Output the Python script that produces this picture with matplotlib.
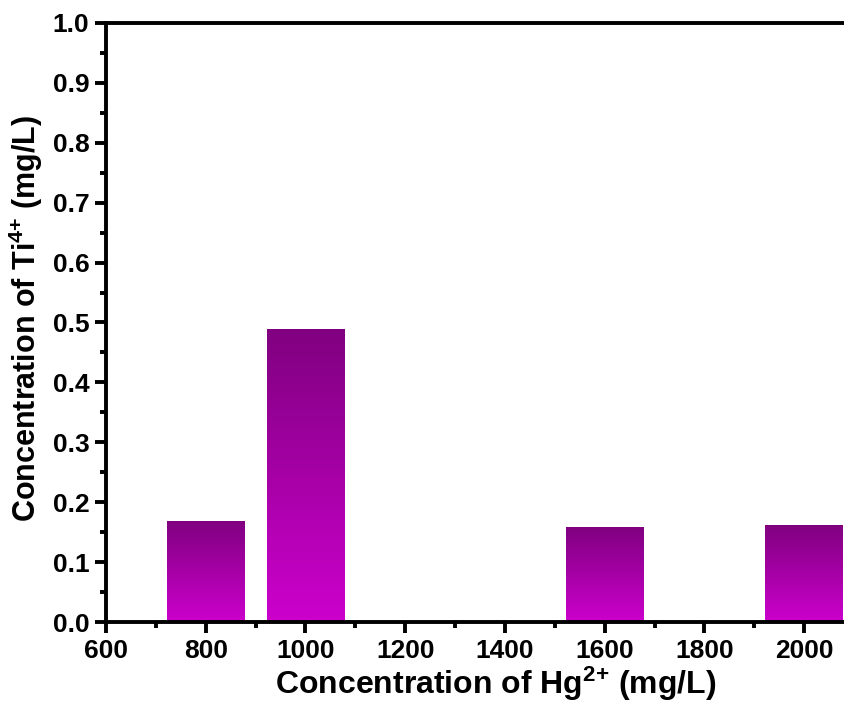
import numpy as np
import matplotlib
matplotlib.use("Agg")
import matplotlib.pyplot as plt
from matplotlib.colors import LinearSegmentedColormap
from matplotlib.ticker import MultipleLocator, FormatStrFormatter

# Hg2+ dose vs. leached Ti4+ concentration
hg_conc = [800, 1000, 1600, 2000]
ti_conc = [0.167, 0.488, 0.158, 0.161]
x_ticks = [600, 800, 1000, 1200, 1400, 1600, 1800, 2000]

plt.rcParams['font.family'] = ['Liberation Sans', 'DejaVu Sans']
plt.rcParams['font.weight'] = 'bold'
plt.rcParams['mathtext.fontset'] = 'custom'
plt.rcParams['mathtext.rm'] = 'Liberation Sans:bold'
plt.rcParams['mathtext.bf'] = 'Liberation Sans:bold'
plt.rcParams['mathtext.it'] = 'Liberation Sans:bold'
plt.rcParams['mathtext.default'] = 'bf'

fig = plt.figure(figsize=(8.44, 7.09), dpi=100)
ax = fig.add_axes([0.1256, 0.1227, 0.8744, 0.8449])

cmap = LinearSegmentedColormap.from_list('purp', ['#cc00cc', '#800080'])
grad = np.linspace(0, 1, 256).reshape(-1, 1)

width = 156
bars = ax.bar(hg_conc, ti_conc, width=width, color='none', edgecolor='none')
for b in bars:
    x0, y0 = b.get_x(), b.get_y()
    w, h = b.get_width(), b.get_height()
    ax.imshow(grad, cmap=cmap, aspect='auto', origin='lower',
              extent=(x0, x0 + w, y0, y0 + h), zorder=2)

ax.set_xlim(600, 2080)
ax.set_ylim(0, 1.0)
ax.set_xticks(x_ticks)
ax.xaxis.set_minor_locator(MultipleLocator(100))
ax.yaxis.set_major_locator(MultipleLocator(0.1))
ax.yaxis.set_minor_locator(MultipleLocator(0.05))
ax.yaxis.set_major_formatter(FormatStrFormatter('%.1f'))

for s in ['left', 'bottom', 'top']:
    ax.spines[s].set_linewidth(2.8)
ax.spines['right'].set_visible(False)

ax.tick_params(axis='both', which='major', direction='out', length=8, width=2.8,
               labelsize=19, pad=4)
ax.tick_params(axis='both', which='minor', direction='out', length=4.5, width=2.8)
for lab in ax.get_xticklabels() + ax.get_yticklabels():
    lab.set_fontweight('bold')

ax.set_xlabel(r'Concentration of Hg$^{2{+}}$ (mg/L)', fontsize=23,
              fontweight='bold')
ax.set_ylabel(r'Concentration of Ti$^{4{+}}$ (mg/L)', fontsize=22,
              fontweight='bold')
ax.xaxis.set_label_coords(0.528, -0.072)
ax.yaxis.set_label_coords(-0.083, 0.506)

fig.savefig('out.png', dpi=100)
